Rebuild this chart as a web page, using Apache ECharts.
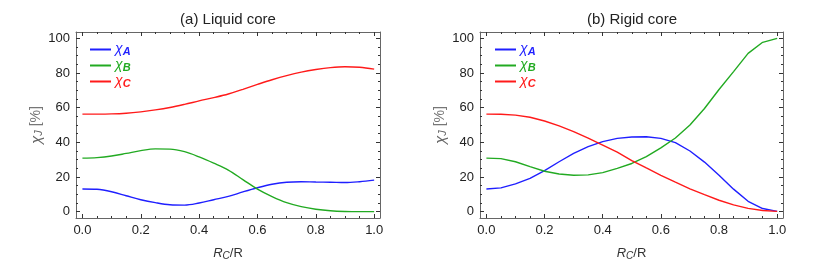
<!DOCTYPE html>
<html><head><meta charset="utf-8">
<script src="https://cdn.jsdelivr.net/npm/echarts@6/dist/echarts.min.js"></script>
<style>html,body{margin:0;padding:0;background:#fff}#c{width:817px;height:274px}</style>
</head><body><div id="c"></div>
<script>
const xValues = [0,0.05,0.1,0.15,0.2,0.25,0.3,0.35,0.4,0.45,0.5,0.55,0.6,0.65,0.7,0.75,0.8,0.85,0.9,0.95,1.0];
const xMajorTicks = [0,0.2,0.4,0.6,0.8,1.0];
const xMinorTicks = [0.05,0.1,0.15,0.25,0.3,0.35,0.45,0.5,0.55,0.65,0.7,0.75,0.85,0.9,0.95];
const yMajorTicks = [0,20,40,60,80,100];
const yMinorTicks = [5,10,15,25,30,35,45,50,55,65,70,75,85,90,95];
const seriesNames = ['χA','χB','χC'];
const titles = ['(a) Liquid core','(b) Rigid core'];
// Liquid core
const liqA = [13.1,12.9,11.5,9.2,6.9,5.2,4.0,3.8,5.0,6.9,8.8,11.4,13.8,15.8,17.0,17.3,17.1,17.0,16.8,17.3,18.2];
const liqB = [30.9,31.2,32.1,33.6,35.2,36.2,36.1,34.6,31.6,28.0,24.0,18.5,13.0,8.7,5.2,2.9,1.4,0.5,0.1,0,0];
const liqC = [56.3,56.3,56.4,56.8,57.6,58.7,60.1,61.9,63.9,65.8,67.9,70.6,73.4,76.1,78.5,80.5,82.0,83.1,83.6,83.3,82.2];
// Rigid core
const rigA = [13.1,13.7,16.0,19.2,23.7,28.8,33.6,37.5,40.4,42.3,43.1,43.2,42.3,39.8,35.0,28.6,21.0,13.0,6.0,1.8,0.2];
const rigB = [30.9,30.6,28.8,26.0,23.3,21.7,21.0,21.2,22.5,25.0,27.8,31.8,36.8,42.5,50.0,59.5,70.5,80.8,91.3,97.7,100];
const rigC = [56.3,56.2,55.7,54.5,52.3,49.5,46.2,42.4,38.4,34.4,29.5,25.2,21.0,17.0,13.2,9.8,6.6,3.9,1.9,0.7,0.2];

const colors = ['#1f1fff','#22aa22','#ff1a1a'];
const frameColor = '#666';
const FF = 'Liberation Sans';
const grids = [
  {left:76, top:32, width:304, height:186},
  {left:480, top:32, width:303, height:186}
];
const xMin=-0.022, xMax=1.02, yMin=-3.65, yMax=103.65;

const xAxes=[], yAxes=[], series=[], legends=[], titleArr=[];
const rich = {};
colors.forEach((c,i)=>{
  rich['c'+i] = {color:c,fontStyle:'italic',fontSize:14,fontFamily:FF,lineHeight:14};
  rich['s'+i] = {color:c,fontStyle:'italic',fontWeight:'bold',fontSize:11,fontFamily:FF,lineHeight:11,padding:[4,0,0,0]};
});
for (let g=0; g<2; g++){
  const base = {type:'value', gridIndex:g, min:xMin, max:xMax, splitLine:{show:false}};
  xAxes.push(Object.assign({}, base, {position:'bottom',
    axisLine:{show:true,onZero:false,lineStyle:{color:frameColor,width:1}},
    axisTick:{show:true,inside:true,length:4,customValues:xMajorTicks,lineStyle:{color:'#333'}},
    axisLabel:{show:true,customValues:xMajorTicks,margin:6,fontSize:13,color:'#222',fontFamily:FF,formatter:v=>v.toFixed(1)},
    name:'{i|R}{s|C}{n|/R}', nameLocation:'middle', nameGap:27,
    nameTextStyle:{rich:{i:{fontStyle:'italic',fontSize:13,color:'#333',fontFamily:FF},
      s:{fontStyle:'italic',fontSize:10,color:'#333',fontFamily:FF,padding:[6,0,0,0]},
      n:{fontSize:13,color:'#333',fontFamily:FF}}}
  }));
  xAxes.push(Object.assign({}, base, {position:'bottom',
    axisLine:{show:false,onZero:false}, axisLabel:{show:false},
    axisTick:{show:true,inside:true,length:2,customValues:xMinorTicks,lineStyle:{color:'#333'}}}));
  xAxes.push(Object.assign({}, base, {position:'top',
    axisLine:{show:true,onZero:false,lineStyle:{color:frameColor,width:1}}, axisLabel:{show:false},
    axisTick:{show:true,inside:true,length:4,customValues:xMajorTicks,lineStyle:{color:'#333'}}}));
  xAxes.push(Object.assign({}, base, {position:'top',
    axisLine:{show:false,onZero:false}, axisLabel:{show:false},
    axisTick:{show:true,inside:true,length:2,customValues:xMinorTicks,lineStyle:{color:'#333'}}}));
  const ybase = {type:'value', gridIndex:g, min:yMin, max:yMax, splitLine:{show:false}};
  yAxes.push(Object.assign({}, ybase, {position:'left',
    axisLine:{show:true,onZero:false,lineStyle:{color:frameColor,width:1}},
    axisTick:{show:true,inside:true,length:4,customValues:yMajorTicks,lineStyle:{color:'#333'}},
    axisLabel:{show:true,customValues:yMajorTicks,margin:6,fontSize:13,color:'#222',fontFamily:FF},
    name:'{c|χ}{s|J}{n| [%]}', nameLocation:'middle', nameGap:29, nameRotate:90,
    nameTextStyle:{rich:{c:{fontStyle:'italic',fontSize:15,color:'#666',fontFamily:FF},
      s:{fontStyle:'italic',fontSize:11,color:'#666',fontFamily:FF,padding:[5,0,0,0]},
      n:{fontSize:14,color:'#777',fontFamily:FF}}}
  }));
  yAxes.push(Object.assign({}, ybase, {position:'left',
    axisLine:{show:false,onZero:false}, axisLabel:{show:false},
    axisTick:{show:true,inside:true,length:2,customValues:yMinorTicks,lineStyle:{color:'#333'}}}));
  yAxes.push(Object.assign({}, ybase, {position:'right',
    axisLine:{show:true,onZero:false,lineStyle:{color:frameColor,width:1}}, axisLabel:{show:false},
    axisTick:{show:true,inside:true,length:4,customValues:yMajorTicks,lineStyle:{color:'#333'}}}));
  yAxes.push(Object.assign({}, ybase, {position:'right',
    axisLine:{show:false,onZero:false}, axisLabel:{show:false},
    axisTick:{show:true,inside:true,length:2,customValues:yMinorTicks,lineStyle:{color:'#333'}}}));

  const dataSets = g===0 ? [liqA,liqB,liqC] : [rigA,rigB,rigC];
  dataSets.forEach((arr,i)=>{
    series.push({type:'line', name:seriesNames[i], xAxisIndex:g*4, yAxisIndex:g*4,
      data: xValues.map((x,k)=>[x,arr[k]]), showSymbol:false, symbol:'none',
      smooth: g===0 ? 0.35 : false, color:colors[i], lineStyle:{width:1.4,color:colors[i]},
      silent:true, animation:false});
  });
  legends.push({orient:'vertical', left: g===0?90:495, top:42, itemWidth:21, itemHeight:2, itemGap:1,
    icon:'rect', selectedMode:false, padding:0,
    data: seriesNames.map((n,i)=>({name:n, itemStyle:{color:colors[i]}})),
    formatter: n => { const i = seriesNames.indexOf(n); return '{c'+i+'|χ}{s'+i+'|'+n.slice(1)+'}'; },
    textStyle:{rich:rich, padding:[0,0,0,-1]}});
  titleArr.push({text:titles[g], left: g===0?228:632, textAlign:'center', top:12, padding:0,
    textStyle:{fontSize:15, fontWeight:'normal', color:'#222', fontFamily:FF}});
}
const chart = echarts.init(document.getElementById('c'), null, {renderer:'canvas'});
chart.setOption({animation:false, backgroundColor:'#fff', title:titleArr, legend:legends,
  grid:grids, xAxis:xAxes, yAxis:yAxes, series:series});
</script></body></html>
